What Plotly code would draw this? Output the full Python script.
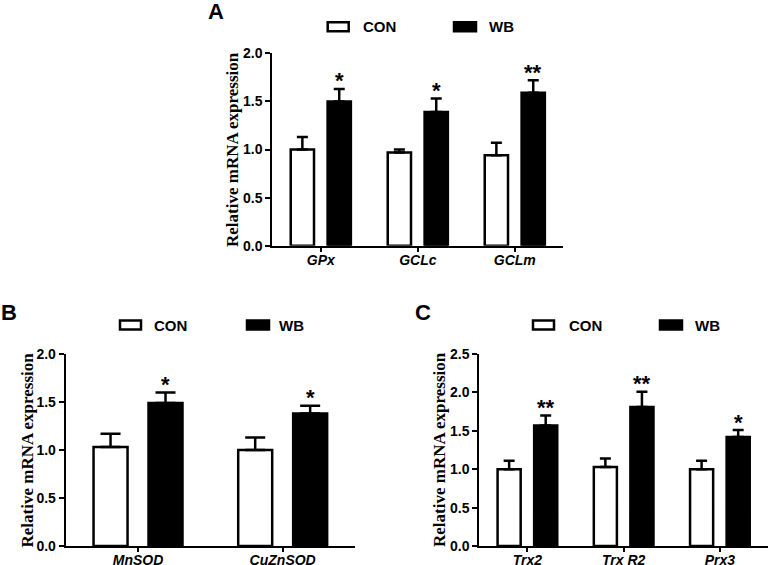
import plotly.graph_objects as go

# ---------------- data ----------------
genes_A = ["GPx", "GCLc", "GCLm"]
con_A = [1.00, 0.97, 0.94]
con_A_err = [0.13, 0.03, 0.13]
wb_A = [1.50, 1.39, 1.59]
wb_A_err = [0.13, 0.14, 0.13]
stars_A = ["*", "*", "**"]

genes_B = ["MnSOD", "CuZnSOD"]
con_B = [1.03, 1.00]
con_B_err = [0.14, 0.13]
wb_B = [1.49, 1.38]
wb_B_err = [0.11, 0.08]
stars_B = ["*", "*"]

genes_C = ["Trx2", "Trx R2", "Prx3"]
con_C = [1.00, 1.03, 1.00]
con_C_err = [0.11, 0.11, 0.11]
wb_C = [1.57, 1.81, 1.42]
wb_C_err = [0.13, 0.20, 0.09]
stars_C = ["**", "**", "*"]

yticks_AB = [0.0, 0.5, 1.0, 1.5, 2.0]
yticks_C = [0.0, 0.5, 1.0, 1.5, 2.0, 2.5]
series_names = ["CON", "WB"]
panel_letters = ["A", "B", "C"]
ytitle = "Relative mRNA expression"

# ---------------- layout helpers ----------------
W, H = 770, 565
SANS = "Liberation Sans, Arial, sans-serif"
SERIF = "Liberation Serif, Times New Roman, serif"


def xd(a, b):
    return [a / W, b / W]


def yd(top, bottom):
    return [1 - bottom / H, 1 - top / H]


panels = [
    dict(genes=genes_A, con=con_A, ce=con_A_err, wb=wb_A, we=wb_A_err, stars=stars_A,
         ticks=yticks_AB, x=(272.3, 563.3), y=(53.3, 245.7), w=0.24, g=0.14, cap=5.5,
         title_x=232.5, letter=(215.5, 12), leg_y=26.7, leg=(327.7, 361, 454, 487)),
    dict(genes=genes_B, con=con_B, ce=con_B_err, wb=wb_B, we=wb_B_err, stars=stars_B,
         ticks=yticks_AB, x=(65.7, 355.0), y=(354.0, 546.0), w=0.235, g=0.145, cap=10,
         title_x=26.5, letter=(8.5, 312.5), leg_y=325.0, leg=(120, 152, 247, 277)),
    dict(genes=genes_C, con=con_C, ce=con_C_err, wb=wb_C, we=wb_C_err, stars=stars_C,
         ticks=yticks_C, x=(479.3, 768.0), y=(354.0, 546.0), w=0.24, g=0.14, cap=5.5,
         title_x=439.0, letter=(422.5, 312.5), leg_y=325.0, leg=(533, 567, 660, 693)),
]

fig = go.Figure()
annotations = []
shapes = []
layout = {}

for k, p in enumerate(panels):
    sfx = "" if k == 0 else str(k + 1)
    xa, ya = "x" + sfx, "y" + sfx
    n = len(p["genes"])
    w, g = p["w"], p["g"]
    off_con = -(w + g / 2)
    off_wb = g / 2
    fig.add_trace(go.Bar(
        x=p["genes"], y=p["con"], xaxis=xa, yaxis=ya, name=series_names[0],
        width=w, offset=off_con, showlegend=False,
        marker=dict(color="white", line=dict(color="black", width=2.5)),
        error_y=dict(type="data", array=p["ce"], arrayminus=[0] * n, symmetric=False,
                     color="black", thickness=2.5, width=p["cap"]),
    ))
    fig.add_trace(go.Bar(
        x=p["genes"], y=p["wb"], xaxis=xa, yaxis=ya, name=series_names[1],
        width=w, offset=off_wb, showlegend=False,
        marker=dict(color="black", line=dict(color="black", width=2.5)),
        error_y=dict(type="data", array=p["we"], arrayminus=[0] * n, symmetric=False,
                     color="black", thickness=2.5, width=p["cap"]),
    ))
    ymax = p["ticks"][-1]
    layout["xaxis" + sfx] = dict(
        domain=xd(*p["x"]), anchor=ya, range=[-0.5, n - 0.5], type="category",
        showline=True, linecolor="black", linewidth=2, showgrid=False, zeroline=False,
        ticks="outside", ticklen=4, tickwidth=2, tickcolor="black", automargin=False,
        ticklabelstandoff=-4,
        tickfont=dict(family=SANS, size=14, color="black", weight="bold", style="italic"),
        fixedrange=True,
    )
    layout["yaxis" + sfx] = dict(
        domain=yd(*p["y"]), anchor=xa, range=[0, ymax],
        tickvals=p["ticks"], ticktext=["%.1f" % t for t in p["ticks"]],
        showline=True, linecolor="black", linewidth=2, showgrid=False, zeroline=False,
        ticks="outside", ticklen=5, tickwidth=2, tickcolor="black", automargin=False,
        tickfont=dict(family=SANS, size=14, color="black", weight="bold"),
        fixedrange=True,
    )
    # y axis title
    ycen = (p["y"][0] + p["y"][1]) / 2
    annotations.append(dict(
        text=ytitle, xref="paper", yref="paper", x=p["title_x"] / W, y=1 - ycen / H,
        textangle=-90, showarrow=False, xanchor="center", yanchor="middle",
        font=dict(family=SERIF, size=17, color="black", weight="bold"),
    ))
    # panel letter
    annotations.append(dict(
        text=panel_letters[k], xref="paper", yref="paper",
        x=p["letter"][0] / W, y=1 - p["letter"][1] / H, showarrow=False,
        xanchor="center", yanchor="middle",
        font=dict(family=SANS, size=22, color="black", weight="bold"),
    ))
    # significance stars
    for i in range(n):
        annotations.append(dict(
            text=p["stars"][i], xref=xa, yref=ya, x=i + off_wb + w / 2,
            y=p["wb"][i] + p["we"][i], showarrow=False, xanchor="center",
            yanchor="middle", yshift=8,
            font=dict(family=SANS, size=22, color="black", weight="bold"),
        ))
    # legend glyphs and labels
    bx1, tx1, bx2, tx2 = p["leg"]
    ly = p["leg_y"]
    shapes.append(dict(type="rect", xref="paper", yref="paper",
                       x0=bx1 / W, x1=(bx1 + 21) / W, y0=1 - (ly + 4.5) / H, y1=1 - (ly - 4.5) / H,
                       fillcolor="white", line=dict(color="black", width=2.5)))
    shapes.append(dict(type="rect", xref="paper", yref="paper",
                       x0=bx2 / W, x1=(bx2 + 22) / W, y0=1 - (ly + 4.5) / H, y1=1 - (ly - 4.5) / H,
                       fillcolor="black", line=dict(color="black", width=2.5)))
    for tx, name in ((tx1, series_names[0]), (tx2, series_names[1])):
        annotations.append(dict(
            text=name, xref="paper", yref="paper", x=tx / W, y=1 - ly / H,
            showarrow=False, xanchor="left", yanchor="middle",
            font=dict(family=SANS, size=15, color="black", weight="bold"),
        ))

fig.update_layout(
    width=W, height=H, margin=dict(l=0, r=0, t=0, b=0),
    paper_bgcolor="white", plot_bgcolor="white", barmode="overlay",
    annotations=annotations, shapes=shapes, **layout,
)

fig.write_html(
    "out.html",
    config={"displayModeBar": False},
    post_script="document.body.style.margin='0';document.body.style.padding='0';",
)
